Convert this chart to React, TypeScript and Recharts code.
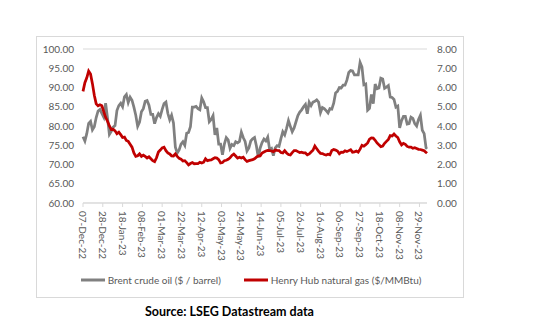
import React from 'react';
import { LineChart, Line, XAxis, YAxis, CartesianGrid, Legend } from 'recharts';

// Days since 07-Dec-22
const days = [
  0, 2, 4, 6, 8, 10, 12, 14, 16, 18, 20, 22, 24, 26, 28, 30, 32, 34, 36, 38,
  40, 42, 44, 46, 48, 50, 52, 54, 56, 58, 60, 62, 64, 66, 68, 70, 72, 74, 76, 78,
  80, 82, 84, 86, 88, 90, 92, 94, 96, 98, 100, 102, 104, 106, 108, 110, 112, 114, 116, 118,
  120, 122, 124, 126, 128, 130, 132, 134, 136, 138, 140, 142, 144, 146, 148, 150, 152, 154, 156, 158,
  160, 162, 164, 166, 168, 170, 172, 174, 176, 178, 180, 182, 184, 186, 188, 190, 192, 194, 196, 198,
  200, 202, 204, 206, 208, 210, 212, 214, 216, 218, 220, 222, 224, 226, 228, 230, 232, 234, 236, 238,
  240, 242, 244, 246, 248, 250, 252, 254, 256, 258, 260, 262, 264, 266, 268, 270, 272, 274, 276, 278,
  280, 282, 284, 286, 288, 290, 292, 294, 296, 298, 300, 302, 304, 306, 308, 310, 312, 314, 316, 318,
  320, 322, 324, 326, 328, 330, 332, 334, 336, 338, 340, 342, 344, 346, 348, 350, 352, 354, 356, 358,
  360, 362, 364, 365,
];

const brent = [
  77.2, 76.1, 78.0, 80.7, 81.2, 79.0, 79.8, 82.2, 83.9, 84.3, 83.3, 82.3, 85.9, 82.1, 77.8, 78.6, 79.7, 80.1, 84.0, 85.3,
  85.9, 85.0, 87.6, 88.2, 86.1, 87.5, 86.7, 84.9, 82.8, 79.9, 81.0, 83.7, 84.5, 86.4, 86.6, 85.4, 83.0, 83.0, 80.6, 82.2,
  83.2, 82.5, 84.3, 85.8, 86.2, 83.3, 81.6, 82.8, 80.8, 74.5, 73.0, 73.8, 75.3, 75.9, 75.0, 78.1, 78.3, 79.8, 84.9, 84.9,
  85.1, 84.5, 84.2, 87.3, 86.3, 84.8, 84.8, 81.1, 81.7, 82.7, 77.7, 79.5, 75.3, 75.3, 72.5, 75.3, 77.0, 76.4, 74.2, 75.2,
  74.9, 75.9, 75.6, 76.0, 78.4, 77.0, 76.0, 73.5, 74.3, 76.1, 76.7, 77.0, 74.8, 71.8, 74.3, 75.7, 76.6, 76.1, 77.1, 73.9,
  74.2, 72.3, 74.3, 74.9, 74.7, 76.7, 78.5, 77.7, 79.4, 81.4, 79.9, 78.5, 79.5, 81.1, 82.7, 83.6, 84.2, 85.0, 85.6, 83.2,
  86.2, 85.3, 86.2, 86.4, 86.8, 86.2, 83.5, 84.8, 84.5, 84.0, 83.4, 84.5, 84.4, 85.9, 88.6, 89.0, 90.0, 89.9, 90.6, 90.6,
  91.9, 93.9, 94.4, 94.3, 93.3, 93.3, 93.3, 96.5, 95.3, 90.7, 90.9, 84.1, 84.6, 88.2, 85.8, 90.9, 89.7, 89.9, 92.4, 92.2,
  89.8, 90.1, 90.5, 87.5, 87.4, 86.9, 84.9, 85.2, 79.5, 81.4, 82.5, 82.5, 80.5, 80.6, 82.3, 82.0, 80.6, 80.0, 81.7, 82.8,
  78.9, 78.0, 74.3, 74.05,
];

const henryHub = [
  5.8, 6.25, 6.5, 6.85, 6.7, 6.2, 5.6, 5.15, 5.05, 5.1, 5.05, 4.75, 4.45, 4.25, 4.0, 3.82, 3.83, 3.75, 3.6, 3.68,
  3.55, 3.4, 3.42, 3.25, 3.2, 3.05, 2.9, 2.6, 2.42, 2.45, 2.55, 2.42, 2.49, 2.42, 2.34, 2.4, 2.3, 2.2, 2.15, 2.35,
  2.65, 2.75, 2.86, 2.9, 2.72, 2.6, 2.55, 2.45, 2.44, 2.55, 2.42, 2.32, 2.28, 2.18, 2.2, 2.1, 1.98, 2.05, 2.1, 2.04,
  2.05, 2.05, 2.12, 2.08, 2.12, 2.3, 2.2, 2.23, 2.24, 2.3, 2.35, 2.33, 2.25, 2.08, 2.1, 2.2, 2.22, 2.27, 2.35, 2.47,
  2.54, 2.44, 2.33, 2.38, 2.34, 2.38, 2.25, 2.16, 2.2, 2.23, 2.25, 2.3, 2.38, 2.45, 2.45, 2.6, 2.65, 2.7, 2.73, 2.72,
  2.7, 2.67, 2.75, 2.73, 2.72, 2.62, 2.6, 2.72, 2.6, 2.52, 2.5, 2.62, 2.72, 2.72, 2.67, 2.62, 2.64, 2.6, 2.6, 2.5,
  2.55, 2.65, 2.74, 2.96, 2.82, 2.68, 2.58, 2.57, 2.52, 2.49, 2.53, 2.5, 2.73, 2.78, 2.75, 2.7, 2.56, 2.64, 2.63, 2.71,
  2.67, 2.72, 2.77, 2.64, 2.65, 2.7, 2.64, 2.8, 3.0, 2.95, 3.03, 3.12, 3.32, 3.38, 3.37, 3.26, 3.12, 3.02, 2.93, 2.96,
  3.1, 3.2, 3.3, 3.5, 3.48, 3.58, 3.48, 3.4, 3.18, 3.02, 3.1, 3.05, 2.94, 2.9, 2.9, 2.84, 2.87, 2.83, 2.79, 2.78,
  2.75, 2.72, 2.63, 2.58,
];

const tickDays = [0, 21, 42, 63, 84, 105, 126, 147, 168, 189, 210, 231, 252, 273, 294, 315, 336, 357];
const tickLabels = [
  '07-Dec-22', '28-Dec-22', '18-Jan-23', '08-Feb-23', '01-Mar-23', '22-Mar-23', '12-Apr-23', '03-May-23',
  '24-May-23', '14-Jun-23', '05-Jul-23', '26-Jul-23', '16-Aug-23', '06-Sep-23', '27-Sep-23', '18-Oct-23',
  '08-Nov-23', '29-Nov-23',
];
const leftTicks = [60, 65, 70, 75, 80, 85, 90, 95, 100];
const rightTicks = [0, 1, 2, 3, 4, 5, 6, 7, 8];

const brentName = 'Brent crude oil ($ / barrel)';
const hhName = 'Henry Hub natural gas ($/MMBtu)';
const sourceText = 'Source: LSEG Datastream data';

const data = days.map((d, i) => ({ day: d, brent: brent[i], hh: henryHub[i] }));

const FONT = 'Lato, "Liberation Sans", sans-serif';
const TEXT = '#595959';

const XTick = (props: any) => {
  const { x, y, payload } = props;
  const idx = tickDays.indexOf(payload.value);
  const label = idx >= 0 ? tickLabels[idx] : '';
  return (
    <text
      x={x}
      y={y}
      transform={`rotate(90, ${x}, ${y})`}
      textAnchor="start"
      dominantBaseline="central"
      fontFamily={FONT}
      fontSize={10}
      fill={TEXT}
    >
      {label}
    </text>
  );
};

const renderLegend = (props: any) => {
  const { payload } = props;
  return (
    <div
      style={{
        display: 'flex',
        justifyContent: 'center',
        gap: 23,
        fontFamily: FONT,
        fontSize: 10,
        color: TEXT,
        lineHeight: '14px',
      }}
    >
      {(payload || []).map((p: any) => (
        <div key={p.value} style={{ display: 'flex', alignItems: 'center' }}>
          <svg width={24} height={4} style={{ display: 'block' }}>
            <line x1={0} y1={2} x2={24} y2={2} stroke={p.color} strokeWidth={3} />
          </svg>
          <span style={{ marginLeft: 3 }}>{p.value}</span>
        </div>
      ))}
    </div>
  );
};

export default function App() {
  return (
    <div style={{ position: 'absolute', left: 0, top: 0, width: 550, height: 330, background: '#fff' }}>
      <div
        style={{
          position: 'absolute',
          left: 36,
          top: 36,
          width: 428,
          height: 262,
          boxSizing: 'border-box',
          border: '1px solid #d9d9d9',
        }}
      />
      <div style={{ position: 'absolute', left: 0, top: 0 }}>
        <LineChart
          width={550}
          height={330}
          data={data}
          margin={{ top: 49, right: 86, bottom: 67, left: 35 }}
        >
          <CartesianGrid horizontal vertical={false} stroke="#d9d9d9" strokeWidth={1} />
          <XAxis
            dataKey="day"
            type="number"
            domain={[0, 365]}
            ticks={tickDays}
            interval={0}
            height={60}
            tick={<XTick />}
            tickSize={4}
            tickMargin={4}
            axisLine={{ stroke: '#d9d9d9' }}
            tickLine={{ stroke: '#d9d9d9' }}
          />
          <YAxis
            yAxisId="left"
            orientation="left"
            width={48}
            domain={[60, 100]}
            ticks={leftTicks}
            interval={0}
            axisLine={false}
            tickLine={false}
            tickSize={0}
            tickMargin={9}
            tickFormatter={(v: number) => v.toFixed(2)}
            tick={{ fontFamily: FONT, fontSize: 10, fill: TEXT }}
          />
          <YAxis
            yAxisId="right"
            orientation="right"
            width={37}
            domain={[0, 8]}
            ticks={rightTicks}
            interval={0}
            axisLine={false}
            tickLine={false}
            tickSize={0}
            tickMargin={10}
            tickFormatter={(v: number) => v.toFixed(2)}
            tick={{ fontFamily: FONT, fontSize: 10, fill: TEXT }}
          />
          <Legend
            verticalAlign="middle"
            align="center"
            layout="horizontal"
            content={renderLegend}
            wrapperStyle={{ top: 273, left: 0, width: 502, height: 14 }}
          />
          <Line
            yAxisId="left"
            type="linear"
            dataKey="brent"
            name={brentName}
            stroke="#808080"
            strokeWidth={2.75}
            dot={false}
            activeDot={false}
            isAnimationActive={false}
          />
          <Line
            yAxisId="right"
            type="linear"
            dataKey="hh"
            name={hhName}
            stroke="#c00000"
            strokeWidth={2.75}
            dot={false}
            activeDot={false}
            isAnimationActive={false}
          />
        </LineChart>
      </div>
      <div
        style={{
          position: 'absolute',
          left: 0,
          top: 304,
          width: 459,
          textAlign: 'center',
          fontFamily: FONT,
          fontWeight: 700,
          fontSize: 12.5,
          color: '#000',
        }}
      >
        {sourceText}
      </div>
    </div>
  );
}
